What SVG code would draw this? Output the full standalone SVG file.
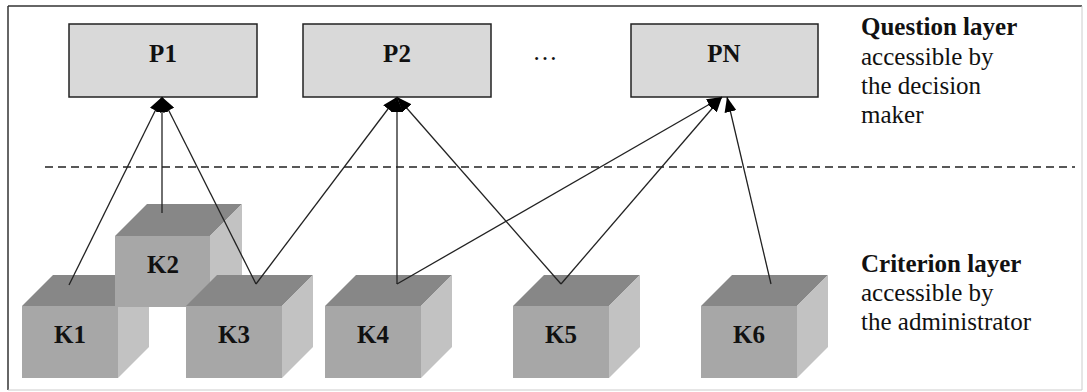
<svg xmlns="http://www.w3.org/2000/svg" width="1087" height="392" viewBox="0 0 1087 392">
<style>
.pbox{fill:#d9d9d9;stroke:#222;stroke-width:1.5}
.lbl{font-size:25px;font-weight:bold;fill:#111;text-anchor:middle}
.txt{font-size:25px;fill:#111}
.txtb{font-size:25px;font-weight:bold;fill:#111}
.top{fill:#878787}
.front{fill:#a7a7a7}
.side{fill:#c2c2c2}
.conn{stroke:#222;stroke-width:1.3;fill:none;marker-end:url(#ah)}
</style>
<defs>
<marker id="ah" markerUnits="userSpaceOnUse" markerWidth="16" markerHeight="12" refX="15" refY="6" orient="auto">
<path d="M0,0 L15,6 L0,12 Z" fill="#000"/>
</marker>
</defs>
<rect x="0" y="0" width="1087" height="392" fill="#fff"/>
<g id="frame">
<line x1="8" y1="6" x2="1082" y2="6" stroke="#333" stroke-width="1.5"/>
<line x1="8" y1="6" x2="8" y2="390" stroke="#333" stroke-width="1.5"/>
<line x1="1082" y1="6" x2="1082" y2="390" stroke="#ccc" stroke-width="1"/>
<line x1="8" y1="390" x2="1082" y2="390" stroke="#ccc" stroke-width="1"/>
</g>
<g id="divider">
<line x1="45" y1="167" x2="1075" y2="167" stroke="#222" stroke-width="1.5" stroke-dasharray="8 5"/>
</g>
<g font-family="Liberation Serif, serif">
<g id="P1"><rect class="pbox" x="69" y="24" width="188" height="73"/><text class="lbl" x="163" y="62">P1</text></g>
<g id="P2"><rect class="pbox" x="303" y="24" width="188" height="73"/><text class="lbl" x="397" y="62">P2</text></g>
<g id="dots"><text class="txt" x="545" y="60" text-anchor="middle">…</text></g>
<g id="PN"><rect class="pbox" x="631" y="24" width="187" height="73"/><text class="lbl" x="724" y="62">PN</text></g>
<g id="K1">
<polygon class="top" points="22,306 118,306 149,275 53,275"/>
<polygon class="side" points="118,306 149,275 149,347 118,378"/>
<rect class="front" x="22" y="306" width="96" height="72"/>
<text class="lbl" x="70" y="343">K1</text>
</g>
<g id="K2">
<polygon class="top" points="115,236 210,236 242,204 147,204"/>
<polygon class="side" points="210,236 242,204 242,275 210,307"/>
<rect class="front" x="115" y="236" width="95" height="71"/>
<text class="lbl" x="163" y="273">K2</text>
</g>
<g id="K3">
<polygon class="top" points="186,306 282,306 313,275 217,275"/>
<polygon class="side" points="282,306 313,275 313,347 282,378"/>
<rect class="front" x="186" y="306" width="96" height="72"/>
<text class="lbl" x="234" y="343">K3</text>
</g>
<g id="K4">
<polygon class="top" points="325,306 421,306 452,275 356,275"/>
<polygon class="side" points="421,306 452,275 452,347 421,378"/>
<rect class="front" x="325" y="306" width="96" height="72"/>
<text class="lbl" x="373" y="343">K4</text>
</g>
<g id="K5">
<polygon class="top" points="513,306 609,306 640,275 544,275"/>
<polygon class="side" points="609,306 640,275 640,347 609,378"/>
<rect class="front" x="513" y="306" width="96" height="72"/>
<text class="lbl" x="561" y="343">K5</text>
</g>
<g id="K6">
<polygon class="top" points="701,306 797,306 828,275 732,275"/>
<polygon class="side" points="797,306 828,275 828,347 797,378"/>
<rect class="front" x="701" y="306" width="96" height="72"/>
<text class="lbl" x="749" y="343">K6</text>
</g>
<g id="legend-question">
<text class="txtb" x="861" y="35">Question layer</text>
<text class="txt" x="861" y="65">accessible by</text>
<text class="txt" x="861" y="94">the decision</text>
<text class="txt" x="861" y="123">maker</text>
</g>
<g id="legend-criterion">
<text class="txtb" x="861" y="272">Criterion layer</text>
<text class="txt" x="861" y="301">accessible by</text>
<text class="txt" x="861" y="330">the administrator</text>
</g>
</g>
<g id="connectors">
<line class="conn" x1="69" y1="285" x2="162" y2="97"/>
<line class="conn" x1="162" y1="213" x2="162" y2="97"/>
<line class="conn" x1="256" y1="284" x2="162" y2="97"/>
<line class="conn" x1="256" y1="284" x2="397" y2="97"/>
<line class="conn" x1="397" y1="284" x2="397" y2="97"/>
<line class="conn" x1="561" y1="284" x2="397" y2="97"/>
<line class="conn" x1="397" y1="284" x2="722" y2="97"/>
<line class="conn" x1="561" y1="284" x2="722" y2="97"/>
<line class="conn" x1="771" y1="284" x2="727" y2="97"/>
</g>
</svg>
